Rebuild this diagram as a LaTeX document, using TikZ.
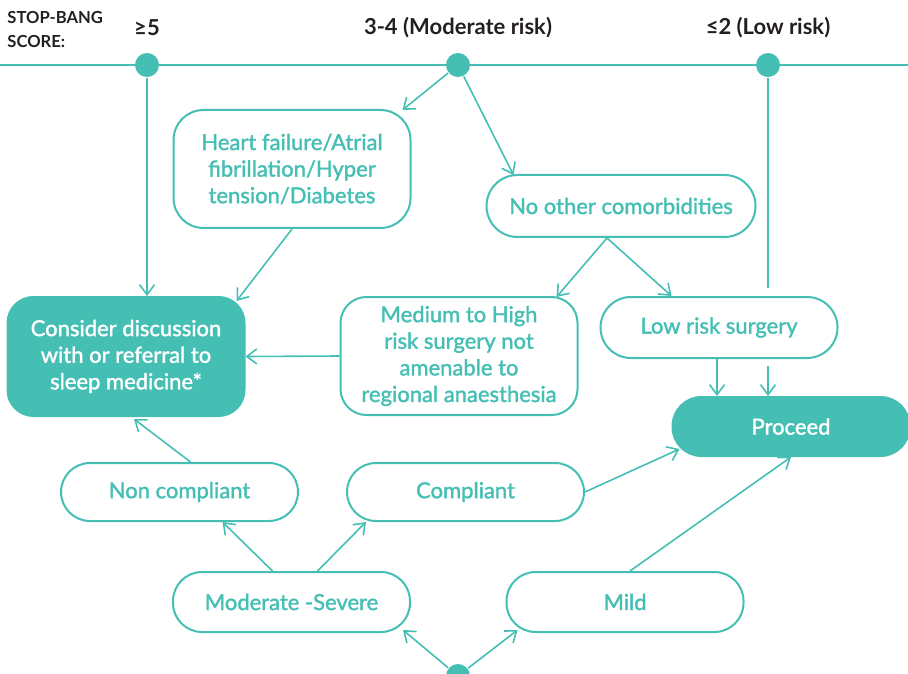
\documentclass[tikz,border=0pt]{standalone}
\usepackage{fontspec}
\setmainfont{Lato}
\newfontfamily\medfont{Lato}[FakeBold=1.5]
\usetikzlibrary{positioning,calc,arrows.meta}
\definecolor{sbteal}{HTML}{45BFB4}
\definecolor{sbink}{HTML}{231F20}
\tikzset{box/.style = {draw=sbteal, line width=1pt, rounded corners=15pt, fill=white, text=sbteal, minimum width=118.5pt, minimum height=59pt, inner sep=2pt, align=center, font=\medfont\fontsize{11}{13.3}\selectfont}}
\tikzset{pill/.style = {box, rounded corners=14.5pt, minimum height=29.5pt}}
\tikzset{filled/.style = {fill=sbteal, text=white}}
\tikzset{dot/.style = {circle, fill=sbteal, inner sep=0pt, minimum size=12pt}}
\tikzset{score/.style = {text=sbink, font=\fontsize{11}{12}\selectfont\bfseries}}

\begin{document}
\begin{tikzpicture}[x=0.5pt, y=-0.5pt, >={Straight Barb[length=5pt,width=7.5pt]}, color=sbteal, line width=0.8pt]
  \clip (0,0) rectangle (908,673);
  \coordinate (ruleL) at (0,65);
  \coordinate (ruleR) at (908,65);
  \draw (ruleL) -- (ruleR);

  \node [dot] (d5) at (147,65) {};
  \node [dot] (d34) at (458,65) {};
  \node [dot] (d2) at (768,65) {};
  \node [dot] (dsev) at (458,676) {};

  \node [score, anchor=west, align=left, font=\fontsize{8.3}{12}\selectfont\bfseries] (sb) at (0,30) {STOP-BANG\\SCORE:};
  \node [score] (l5) at (147,28) {≥5};
  \node [score] (l34) at (458,28) {3-4 (Moderate risk)};
  \node [score] (l2) at (768,28) {≤2 (Low risk)};

  \node [box] (hf) at (292,169) {Heart failure/Atrial\\fibrillation/Hyper\\tension/Diabetes};
  \node [pill, minimum width=134.5pt, minimum height=31pt, rounded corners=15.5pt] (nc) at (621,206) {No other comorbidities};
  \node [box, filled, minimum height=59.5pt, rounded corners=13pt] (cons) at (126,356.5) {Consider discussion\\with or referral to\\sleep medicine*};
  \node [box, rounded corners=13pt] (med) at (459,356) {Medium to High\\risk surgery not\\amenable to\\regional anaesthesia};
  \node [pill, minimum height=30.5pt, rounded corners=15.25pt] (low) at (719,327.5) {Low risk surgery};
  \node [pill, filled] (pro) at (791,426.5) {Proceed};
  \node [pill, minimum height=29pt] (nonc) at (179.5,492) {Non compliant};
  \node [pill, minimum height=29pt, right=23.5pt of nonc] (comp) {Compliant};
  \node [pill, minimum height=30pt] (mod) at (291.5,602) {Moderate -Severe};
  \node [pill, minimum height=30pt] (mild) at (625,602) {Mild};

  \draw[->] (d5) -- (cons.north -| d5);
  \draw[->] (d34) -- ($(hf.north east)+(-9,1)$);
  \draw[->] (d34) -- ($(nc.north west)+(28,1)$);
  \draw[->] (hf.south) -- ($(cons.north east)+(-9,5)$);
  \draw[->] ($(nc.south)+(-14,0)$) -- ($(med.north east)+(-22,1)$);
  \draw[->] ($(nc.south)+(-14,0)$) -- ($(low.north west)+(72,0)$);
  \draw[->] (med.west) -- (cons.east);
  \draw[->] ($(low.south)+(-2,0)$) -- ($(low.south |- pro.north)+(-2,0)$);
  \draw (d2) -- ($(d2 |- low.north)+(0,-8)$);
  \draw[->] ($(d2 |- low.south)+(0,7)$) -- (d2 |- pro.north);
  \draw[->] ($(nonc.north)+(11,0)$) -- ($(cons.south)+(8,2)$);
  \draw[->] ($(mod.north)+(-19,0)$) -- ($(nonc.south)+(43,0)$);
  \draw[->] ($(mod.north)+(26,0)$) -- ($(comp.south west)+(20,0)$);
  \draw[->] (comp.east) -- ($(pro.south west)+(8,-8)$);
  \draw[->] ($(mild.north)+(5,0)$) -- (pro.south);
  \draw[->] (dsev) -- ($(mod.south east)+(-8,-3)$);
  \draw[->] (dsev) -- ($(mild.south west)+(12,-3)$);
\end{tikzpicture}
\end{document}
